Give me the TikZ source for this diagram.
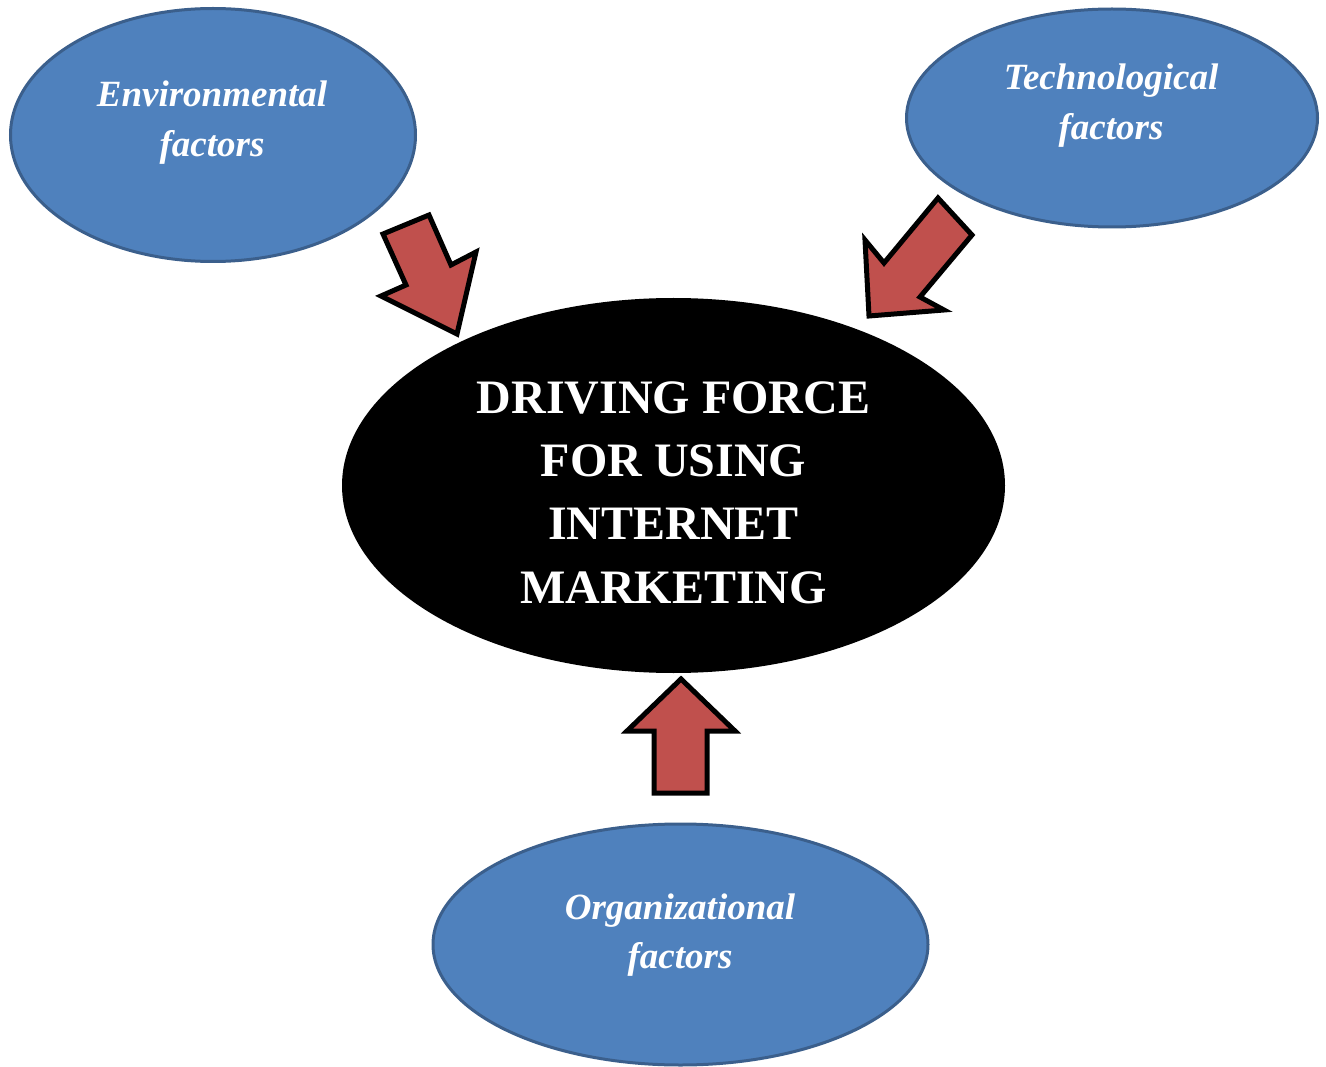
\documentclass[tikz,border=0pt]{standalone}
\usepackage{fontspec}
\setmainfont{Liberation Serif}
\usetikzlibrary{shapes.geometric}
\definecolor{factorblue}{HTML}{4F81BD}
\definecolor{factoredge}{HTML}{3B5F8C}
\definecolor{arrowred}{HTML}{C0504D}
\begin{document}
\begin{tikzpicture}[x=1pt,y=-1pt,
  factor/.style={ellipse, draw=factoredge, line width=3pt, fill=factorblue, inner sep=0pt},
  factortext/.style={text=white, font=\fontsize{37}{49.5}\selectfont\bfseries\itshape, align=center, anchor=base},
  core/.style={ellipse, fill=black, inner sep=0pt},
  coretext/.style={text=white, font=\fontsize{48}{63.3}\selectfont\bfseries, align=center, anchor=base},
  blockarrow/.style={draw=black, fill=arrowred, line width=5pt, line join=miter}]
\useasboundingbox (0,0) rectangle (1326,1067);

% the three factor ellipses and the central driving force
\node[factor, minimum width=405pt, minimum height=253pt] (env) at (213,135) {};
\node[factor, minimum width=411pt, minimum height=218pt] (tech) at (1112,118) {};
\node[factor, minimum width=495pt, minimum height=241pt] (org) at (680.5,944.5) {};
\node[core, minimum width=663pt, minimum height=375pt] (drive) at (673.5,485.5) {};

% labels (anchored on the baseline of their last line)
\node[factortext] (envlabel) at (212,156.5) {Environmental\\factors};
\node[factortext] (techlabel) at (1111,139.5) {Technological\\factors};
\node[factortext] (orglabel) at (680,968.5) {Organizational\\factors};
\node[coretext] (drivelabel) at (673.5,603) {DRIVING FORCE\\FOR USING\\INTERNET\\MARKETING};

% block arrows pointing at the driving force
\draw[blockarrow] (383,234) -- (429,215) -- (451,265) -- (476,252) -- (457,334)
  -- (381,296) -- (406,285) -- cycle;
\draw[blockarrow] (938,198) -- (972,235) -- (920,297) -- (944,310) -- (869,316)
  -- (865,240) -- (884,263) -- cycle;
\draw[blockarrow] (681,679) -- (735,731) -- (707,731) -- (707,793) -- (654,793)
  -- (654,731) -- (627,731) -- cycle;
\end{tikzpicture}
\end{document}
